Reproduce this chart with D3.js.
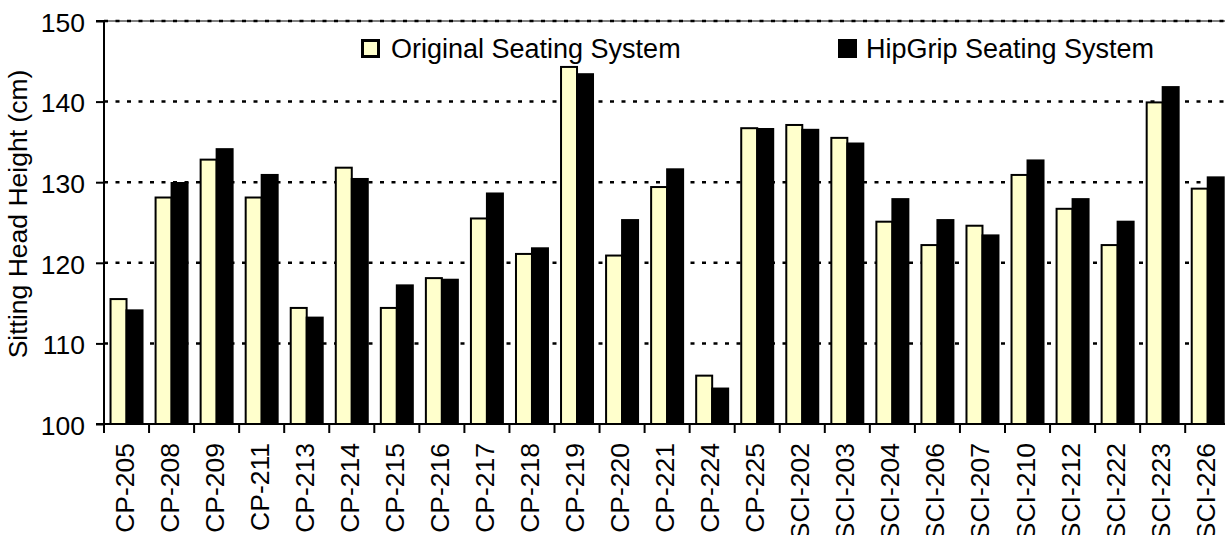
<!DOCTYPE html>
<html><head><meta charset="utf-8">
<script src="https://cdn.jsdelivr.net/npm/d3@7"></script>
<style>
html,body{margin:0;padding:0;background:#fff;}
svg{display:block;font-family:Arial,"Liberation Sans",sans-serif;}
</style></head>
<body><svg id="c" width="1225" height="535"></svg>
<script>
const categories = ["CP-205","CP-208","CP-209","CP-211","CP-213","CP-214","CP-215","CP-216","CP-217","CP-218","CP-219","CP-220","CP-221","CP-224","CP-225","SCI-202","SCI-203","SCI-204","SCI-206","SCI-207","SCI-210","SCI-212","SCI-222","SCI-223","SCI-226"];
const original = [115.5,128.1,132.8,128.1,114.4,131.8,114.4,118.1,125.5,121.1,144.3,120.9,129.4,106.0,136.7,137.1,135.5,125.1,122.2,124.6,130.9,126.7,122.2,139.9,129.2];
const hipgrip  = [114.1,129.9,134.1,130.9,113.2,130.4,117.2,117.9,128.6,121.8,143.4,125.3,131.6,104.4,136.6,136.5,134.8,127.9,125.3,123.4,132.7,127.9,125.1,141.8,130.6];
const seriesNames = ["Original Seating System","HipGrip Seating System"];
const yTicks = [100,110,120,130,140,150];

(function(){
const svg = d3.select("#c");
const mLeft = 104, mTop = 21, mBottom = 424, step = 45.05;
const x = d3.scaleBand().domain(categories).range([mLeft, mLeft + step*categories.length])
  .paddingInner(0.29).paddingOuter(0.145);
const sub = d3.scaleBand().domain([0,1]).range([0, x.bandwidth()]);
const y = d3.scaleLinear().domain([100,150]).range([mBottom, mTop]);
const font = 26.5;
const W = 1225;

// gridlines
const grid = svg.append("g");
grid.append("line").attr("x1", mLeft).attr("x2", W).attr("y1", y(150)).attr("y2", y(150))
  .attr("stroke","#000").attr("stroke-width",1.2);
grid.selectAll("line.g").data(yTicks.filter(d=>d>100)).enter().append("line")
  .attr("class","g").attr("x1", mLeft).attr("x2", W)
  .attr("y1", d=>y(d)).attr("y2", d=>y(d))
  .attr("stroke","#000").attr("stroke-width",2.5).attr("stroke-dasharray","4,7.5");

// bars
const data = categories.map((c,i)=>({c, v:[original[i], hipgrip[i]]}));
const colors = ["#FFFFCC","#000000"];
const g = svg.append("g");
data.forEach(d=>{
  d.v.forEach((v,j)=>{
    g.append("rect")
      .attr("x", x(d.c) + sub(j))
      .attr("y", y(v))
      .attr("width", sub.bandwidth())
      .attr("height", y(100) - y(v))
      .attr("fill", colors[j]).attr("stroke","#000").attr("stroke-width",2);
  });
});

// y axis
const ya = svg.append("g").attr("transform",`translate(${mLeft},0)`)
  .call(d3.axisLeft(y).tickValues(yTicks).tickSize(8).tickPadding(11).tickFormat(d3.format("d")));
ya.select(".domain").attr("stroke-width",2).attr("d", `M-8,${y(150)}H0V${y(100)}H-8`);
ya.selectAll(".tick line").attr("stroke-width",2);
ya.selectAll(".tick text").attr("font-size",font).attr("font-family","Arial,'Liberation Sans',sans-serif")
  .attr("fill","#000").attr("dy","0.39em");

// x axis line
svg.append("line").attr("x1", mLeft).attr("x2", W).attr("y1", mBottom).attr("y2", mBottom)
  .attr("stroke","#000").attr("stroke-width",2);
const pad = (step - x.bandwidth())/2;
svg.selectAll("line.xt").data(categories).enter().append("line").attr("class","xt")
  .attr("x1", d=>x(d)-pad).attr("x2", d=>x(d)-pad)
  .attr("y1", mBottom).attr("y2", mBottom+9).attr("stroke","#000").attr("stroke-width",2);

// x labels
svg.selectAll("text.xl").data(categories).enter().append("text").attr("class","xl")
  .attr("transform", d=>`translate(${x(d)+x.bandwidth()/2+7},443) rotate(-90)`)
  .attr("text-anchor","end").attr("font-size",font).attr("fill","#000").text(d=>d);

// y title
svg.append("text").attr("transform",`translate(27,214) rotate(-90)`)
  .attr("text-anchor","middle").attr("font-size",font).attr("fill","#000")
  .text("Sitting Head Height (cm)");

// legend
const leg = [{x:361, tx:391}, {x:838, tx:866}];
leg.forEach((l,i)=>{
  svg.append("rect").attr("x", l.x+1.5).attr("y", 40.5).attr("width",16).attr("height",16)
    .attr("fill", colors[i]).attr("stroke","#000").attr("stroke-width",3);
  svg.append("text").attr("x", l.tx).attr("y", 58).attr("font-size",27).attr("fill","#000")
    .text(seriesNames[i]);
});
})();
</script></body></html>
